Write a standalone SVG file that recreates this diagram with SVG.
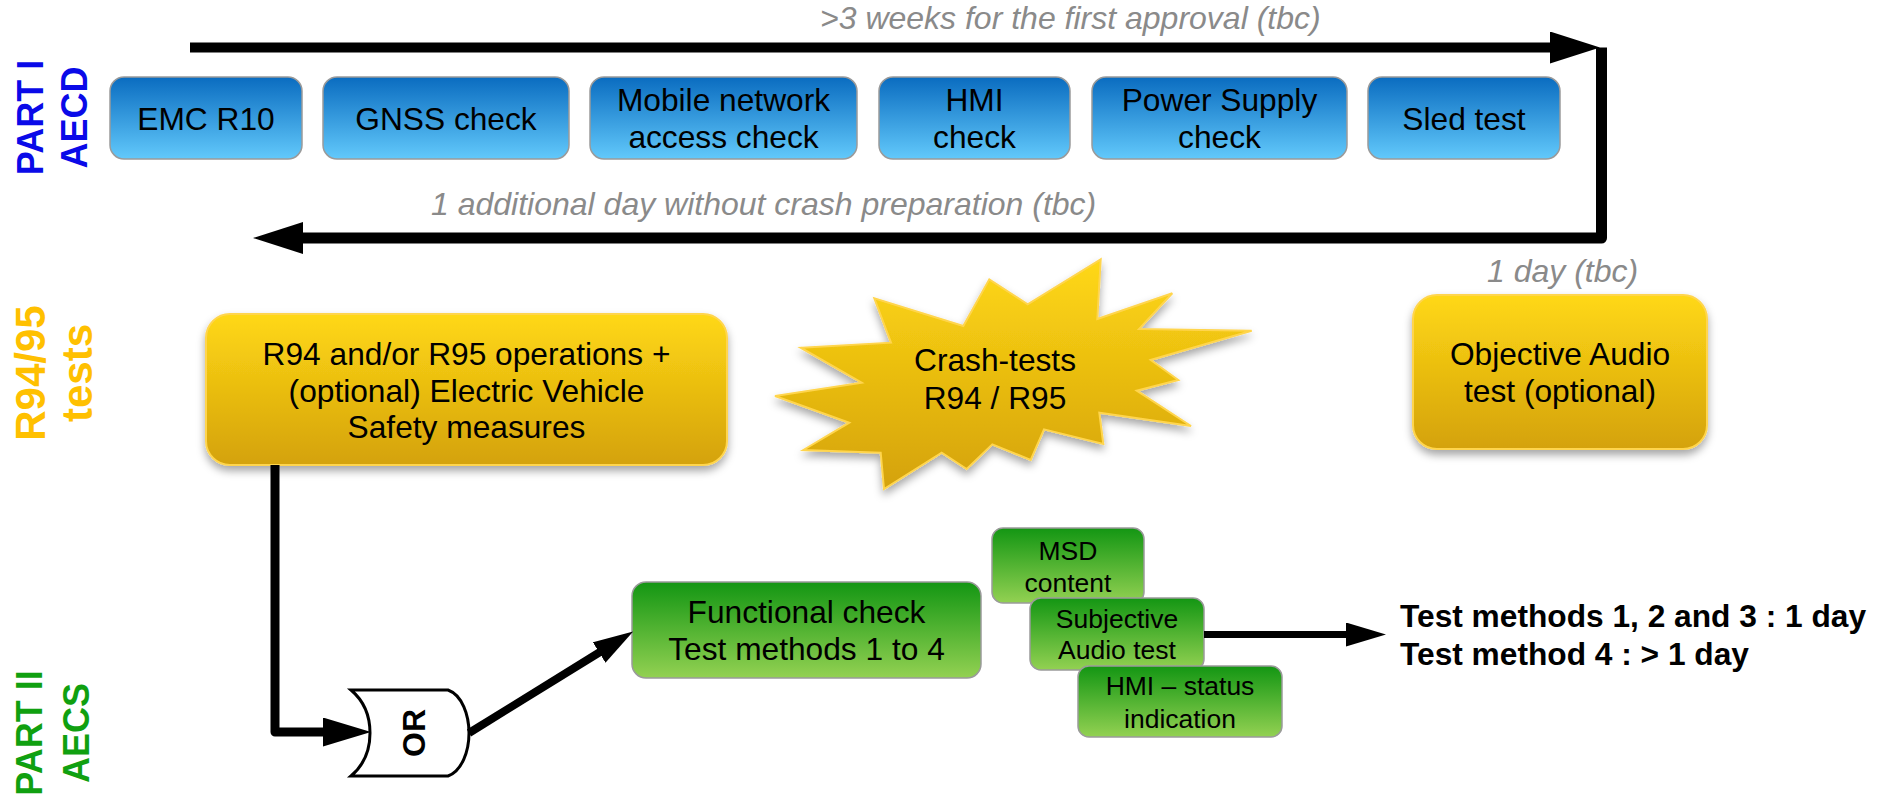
<svg xmlns="http://www.w3.org/2000/svg" width="1879" height="799" viewBox="0 0 1879 799">
<defs>
  <linearGradient id="gBlue" x1="0" y1="0" x2="0" y2="1"><stop offset="0" stop-color="#0a6cc0"/><stop offset="1" stop-color="#62c9fb"/></linearGradient>
  <linearGradient id="gYellow" x1="0" y1="0" x2="0" y2="1"><stop offset="0" stop-color="#ffd815"/><stop offset="1" stop-color="#d4a20b"/></linearGradient>
  <linearGradient id="gGreen" x1="0" y1="0" x2="0" y2="1"><stop offset="0" stop-color="#139613"/><stop offset="1" stop-color="#93d152"/></linearGradient>
  <filter id="shadow" x="-10%" y="-10%" width="120%" height="135%"><feDropShadow dx="0" dy="5" stdDeviation="4" flood-color="#000" flood-opacity="0.35"/></filter>
  <marker id="ahL" markerUnits="userSpaceOnUse" markerWidth="52" markerHeight="34" refX="1" refY="16" orient="auto"><path d="M0,0 L50,16 L0,32 z" fill="#000"/></marker>
  <marker id="ahM" markerUnits="userSpaceOnUse" markerWidth="50" markerHeight="30" refX="1" refY="14.5" orient="auto"><path d="M0,0 L48,14.5 L0,29 z" fill="#000"/></marker>
  <marker id="ahS" markerUnits="userSpaceOnUse" markerWidth="42" markerHeight="26" refX="1" refY="12" orient="auto"><path d="M0,0 L40,12 L0,24 z" fill="#000"/></marker>
</defs>
<style>
  .blue{fill:url(#gBlue);stroke:#9a9a9a;stroke-width:1.5}
  .yellow{fill:url(#gYellow);stroke:#ffd54d;stroke-width:2;filter:url(#shadow)}
  .green{fill:url(#gGreen);stroke:#9a9a9a;stroke-width:1.5}
  .t{font-family:"Liberation Sans",Arial,sans-serif;font-size:31.7px;fill:#000;text-anchor:middle}
  .ts{font-size:26.5px}
  .gray{font-family:"Liberation Sans",Arial,sans-serif;font-style:italic;font-size:32px;fill:#8a8a8a}
  .side{font-family:"Liberation Sans",Arial,sans-serif;font-weight:bold;text-anchor:middle}
  .bold{font-family:"Liberation Sans",Arial,sans-serif;font-weight:bold;font-size:31.7px;fill:#000}
  .conn{fill:none;stroke:#000;stroke-linejoin:round}
</style>
<rect width="1879" height="799" fill="#fff"/>

<g id="labels">
  <text class="side" font-size="36" fill="#0a0ae8" transform="translate(43,117.5) rotate(-90)">PART I</text>
  <text class="side" font-size="36" fill="#0a0ae8" transform="translate(87,117.5) rotate(-90)">AECD</text>
  <text class="side" font-size="42" fill="#ffc000" transform="translate(45,373) rotate(-90)">R94/95</text>
  <text class="side" font-size="42" fill="#ffc000" transform="translate(92,373) rotate(-90)">tests</text>
  <text class="side" font-size="36" fill="#10a010" transform="translate(42,733) rotate(-90)">PART II</text>
  <text class="side" font-size="36" fill="#10a010" transform="translate(89,733) rotate(-90)">AECS</text>
  <text class="gray" x="820" y="29">&gt;3 weeks for the first approval (tbc)</text>
  <text class="gray" x="431" y="215">1 additional day without crash preparation (tbc)</text>
  <text class="gray" x="1487" y="282">1 day (tbc)</text>
  <text class="bold" x="1400" y="627">Test methods 1, 2 and 3 : 1 day</text>
  <text class="bold" x="1400" y="665">Test method 4 : &gt; 1 day</text>
</g>

<g id="emc"><rect class="blue" x="110" y="77" width="192" height="82" rx="14"/><text class="t" x="206" y="130">EMC R10</text></g>
<g id="gnss"><rect class="blue" x="323" y="77" width="246" height="82" rx="14"/><text class="t" x="446" y="130">GNSS check</text></g>
<g id="mobile"><rect class="blue" x="590" y="77" width="267" height="82" rx="14"/><text class="t" x="723.5" y="111">Mobile network</text><text class="t" x="723.5" y="148">access check</text></g>
<g id="hmi"><rect class="blue" x="879" y="77" width="191" height="82" rx="14"/><text class="t" x="974.5" y="111">HMI</text><text class="t" x="974.5" y="148">check</text></g>
<g id="power"><rect class="blue" x="1092" y="77" width="255" height="82" rx="14"/><text class="t" x="1219.5" y="111">Power Supply</text><text class="t" x="1219.5" y="148">check</text></g>
<g id="sled"><rect class="blue" x="1368" y="77" width="192" height="82" rx="14"/><text class="t" x="1464" y="130">Sled test</text></g>

<g id="r94ops"><rect class="yellow" x="206" y="314" width="521" height="151" rx="24"/>
  <text class="t" x="466.5" y="365">R94 and/or R95 operations +</text>
  <text class="t" x="466.5" y="402">(optional) Electric Vehicle</text>
  <text class="t" x="466.5" y="438">Safety measures</text></g>
<g id="crash"><polygon class="yellow" points="1100.7,259.3 1097.3,319 1172.3,293.3 1139,329 1251.7,330.7 1150.7,360 1178.3,380 1136.7,390.7 1191,426 1099.3,412.7 1103.3,444 1044,429.3 1030.7,460 992.3,444.3 966.7,469 941.7,452.7 884,489 880.7,452.7 803.3,450 849.3,422.7 775,396 861.7,382.7 800.7,347.7 891,342.7 874.3,298.3 963.3,326 989.3,279.3 1027.7,304.3"/>
  <text class="t" x="995" y="371">Crash-tests</text><text class="t" x="995" y="409">R94 / R95</text></g>
<g id="objective"><rect class="yellow" x="1413" y="295" width="294" height="154" rx="24"/>
  <text class="t" x="1560" y="365">Objective Audio</text><text class="t" x="1560" y="402">test (optional)</text></g>

<g id="or"><path d="M351,690 H448 C462,695 469,715 469,733 C469,751 462,771 448,776 H351 C364,765 370,750 370,733 C370,716 364,701 351,690 Z" fill="#fff" stroke="#000" stroke-width="3"/>
  <text class="side" font-size="32" fill="#000" transform="translate(425,733) rotate(-90)">OR</text></g>
<g id="functional"><rect class="green" x="632" y="582" width="349" height="96" rx="14"/>
  <text class="t" x="806.5" y="623">Functional check</text><text class="t" x="806.5" y="660">Test methods 1 to 4</text></g>
<g id="msd"><rect class="green" x="992" y="528" width="152" height="75" rx="11"/>
  <text class="t ts" x="1068" y="560">MSD</text><text class="t ts" x="1068" y="592">content</text></g>
<g id="subjective"><rect class="green" x="1030" y="598" width="174" height="72" rx="11"/>
  <text class="t ts" x="1117" y="628">Subjective</text><text class="t ts" x="1117" y="659">Audio test</text></g>
<g id="hmistatus"><rect class="green" x="1078" y="666" width="204" height="71" rx="11"/>
  <text class="t ts" x="1180" y="695">HMI – status</text><text class="t ts" x="1180" y="728">indication</text></g>

<g id="connectors">
  <path class="conn" d="M190,47.5 H1551" stroke-width="10" marker-end="url(#ahL)"/>
  <path class="conn" d="M1601.5,47.5 V238 H302" stroke-width="11" stroke-linejoin="miter" marker-end="url(#ahL)"/>
  <path class="conn" d="M275,465 V732 H324" stroke-width="9" marker-end="url(#ahM)"/>
  <path class="conn" d="M469,733 L600,652" stroke-width="8" marker-end="url(#ahS)"/>
  <path class="conn" d="M1204,634.5 H1347" stroke-width="7" marker-end="url(#ahS)"/>
</g>
</svg>
